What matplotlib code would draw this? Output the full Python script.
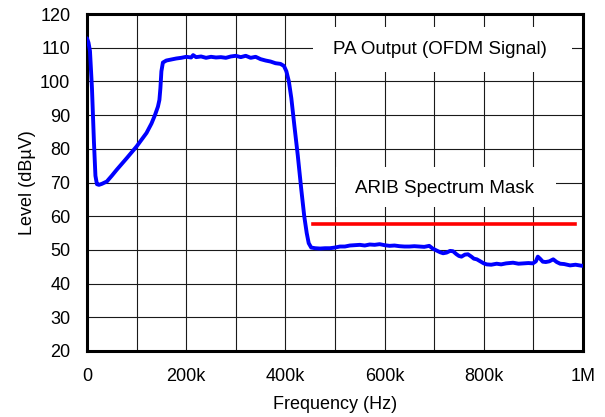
import matplotlib
matplotlib.use("Agg")
import matplotlib.pyplot as plt
from matplotlib.patches import Rectangle
from matplotlib.ticker import FuncFormatter, MultipleLocator

plt.rcParams["font.family"] = ["Liberation Sans", "DejaVu Sans"]

# PA output spectrum, frequency in kHz, level in dBuV
freq_khz = [0, 3, 6, 10, 14, 17, 20, 24, 30, 40, 50, 60, 80, 100, 120, 130, 137,
            143, 146, 148, 150, 153, 160, 170, 180, 190, 200, 210, 214, 220, 230,
            240, 250, 260, 270, 280, 290, 300, 310, 320, 330, 340, 350, 360, 370,
            380, 390, 397, 402, 407, 412, 418, 425, 432, 438, 443, 447, 452, 460,
            470, 480, 490, 500, 510, 520, 530, 540, 550, 560, 570, 580, 590, 600,
            610, 620, 630, 640, 650, 660, 670, 680, 690, 697, 705, 712, 718, 725,
            732, 738, 745, 750, 755, 762, 768, 775, 780, 786, 793, 800, 806, 815,
            826, 835, 845, 859, 870, 880, 890, 899, 905, 909, 914, 919, 925, 932,
            940, 947, 954, 962, 974, 985, 997, 1000]
level_dbuv = [112.8, 111.5, 109.0, 98.0, 82.0, 72.0, 69.5, 69.3, 69.6, 70.3, 72.0,
              73.8, 77.2, 80.7, 84.7, 87.5, 90.0, 92.5, 94.5, 98.0, 103.0, 105.6,
              106.2, 106.5, 106.8, 107.0, 107.3, 107.1, 107.8, 107.2, 107.4, 107.0,
              107.3, 107.1, 107.2, 107.0, 107.4, 107.6, 107.2, 107.6, 107.0, 107.3,
              106.6, 106.2, 105.9, 105.4, 105.2, 104.6, 103.0, 100.0, 95.0, 87.0,
              78.0, 68.0, 60.0, 55.0, 52.0, 50.7, 50.5, 50.4, 50.5, 50.5, 50.7,
              51.0, 51.0, 51.3, 51.4, 51.5, 51.3, 51.6, 51.5, 51.7, 51.4, 51.2,
              51.3, 51.1, 51.0, 51.0, 51.1, 51.0, 50.9, 51.2, 50.4, 49.8, 49.3,
              49.0, 49.2, 49.7, 49.6, 48.7, 48.2, 48.0, 48.6, 48.7, 48.0, 47.4,
              47.2, 46.6, 46.0, 45.7, 45.6, 45.9, 45.7, 46.0, 46.2, 45.9, 46.0,
              46.1, 46.0, 46.6, 48.0, 47.3, 46.5, 46.4, 46.6, 47.2, 46.4, 45.9,
              45.8, 45.4, 45.6, 45.3, 45.3]

# ARIB spectrum mask
mask_khz = [456, 984]
mask_dbuv = [57.7, 57.7]

freq_hz = [f * 1e3 for f in freq_khz]
mask_hz = [f * 1e3 for f in mask_khz]


def fmt_freq(x, pos):
    if x == 0:
        return "0"
    if x >= 1e6:
        return f"{x / 1e6:g}M"
    return f"{x / 1e3:g}k"


fig = plt.figure(figsize=(6.05, 4.17), dpi=100)
ax = fig.add_axes([0.1438, 0.1583, 0.8198, 0.8081])

ax.plot(freq_hz, level_dbuv, color="#0000ff", linewidth=2.8, zorder=3,
        solid_capstyle="round", solid_joinstyle="round")
ax.plot(mask_hz, mask_dbuv, color="#ff0000", linewidth=2.6, zorder=3)

ax.set_xlim(0, 1e6)
ax.set_ylim(20, 120)
ax.xaxis.set_major_locator(MultipleLocator(200e3))
ax.xaxis.set_minor_locator(MultipleLocator(100e3))
ax.xaxis.set_major_formatter(FuncFormatter(fmt_freq))
ax.yaxis.set_major_locator(MultipleLocator(10))

ax.set_axisbelow(True)
ax.grid(True, which="both", color="#1a1a1a", linewidth=0.8)
ax.tick_params(which="both", length=0, labelsize=13)
ax.tick_params(axis="x", pad=12)
ax.tick_params(axis="y", pad=12)
for s in ax.spines.values():
    s.set_linewidth(2.2)

# white label boxes that cut the grid
ax.add_patch(Rectangle((455.6e3, 102.8), 522e3, 13.4, facecolor="white",
                       edgecolor="none", zorder=1))
ax.add_patch(Rectangle((502e3, 62.6), 443.6e3, 12.1, facecolor="white",
                       edgecolor="none", zorder=1))
ax.text(711e3, 109.5, "PA Output (OFDM Signal)", fontsize=13.5,
        ha="center", va="center", zorder=2)
ax.text(720e3, 68.2, "ARIB Spectrum Mask", fontsize=13.5,
        ha="center", va="center", zorder=2)

ax.set_xlabel("Frequency (Hz)", fontsize=13, labelpad=8)
ax.set_ylabel("Level (dBµV)", fontsize=13, labelpad=3)

fig.savefig("out.png", dpi=100)
